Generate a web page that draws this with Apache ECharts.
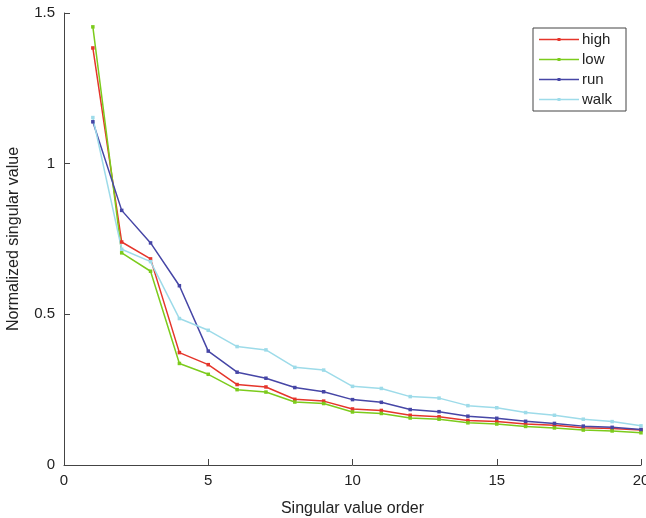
<!DOCTYPE html>
<html>
<head>
<meta charset="utf-8">
<script src="https://cdn.jsdelivr.net/npm/echarts@6/dist/echarts.min.js"></script>
<style>html,body{margin:0;padding:0;background:#fff}#c{width:646px;height:518px}</style>
</head>
<body>
<div id="c"></div>
<script>
const order = [1,2,3,4,5,6,7,8,9,10,11,12,13,14,15,16,17,18,19,20];
const high = [1.384,0.740,0.684,0.373,0.333,0.267,0.259,0.218,0.212,0.186,0.181,0.165,0.160,0.148,0.144,0.136,0.132,0.124,0.121,0.116];
const low  = [1.454,0.704,0.643,0.337,0.301,0.250,0.242,0.209,0.204,0.176,0.171,0.156,0.152,0.140,0.136,0.128,0.123,0.116,0.113,0.107];
const run  = [1.139,0.845,0.737,0.595,0.378,0.308,0.288,0.257,0.243,0.217,0.208,0.184,0.177,0.162,0.155,0.145,0.138,0.129,0.125,0.118];
const walk = [1.153,0.716,0.675,0.486,0.447,0.393,0.382,0.324,0.315,0.261,0.254,0.227,0.222,0.197,0.190,0.174,0.165,0.152,0.144,0.130];
const seriesNames = ['high','low','run','walk'];
const seriesData = [high, low, run, walk];
const colors = ['#e5352b','#7ccb1c','#4646a6','#9ddbe9'];

const font = '"Liberation Sans", Arial, Helvetica, sans-serif';
const chart = echarts.init(document.getElementById('c'));
chart.setOption({
  animation: false,
  backgroundColor: '#fff',
  grid: {left: 64, right: 5, top: 13, bottom: 53, containLabel: false, outerBoundsMode: 'none'},
  legend: {
    orient: 'vertical', left: 533, top: 28,
    data: seriesNames,
    icon: 'path://M0,1.25L40,1.25L40,2.75L0,2.75Z M18.5,0.5L21.5,0.5L21.5,3.5L18.5,3.5Z M0,0L0.01,0L0.01,4L0,4Z',
    backgroundColor: '#fff', borderColor: '#444', borderWidth: 1,
    padding: [4, 14, 4, 6],
    itemWidth: 40, itemHeight: 4, itemGap: 5,
    textStyle: {fontFamily: font, fontSize: 15, color: '#222', padding: [0,0,0,-2], lineHeight: 15}
  },
  xAxis: {
    type: 'value', min: 0, max: 20, interval: 5,
    name: 'Singular value order', nameLocation: 'middle', nameGap: 36,
    nameTextStyle: {fontFamily: font, fontSize: 16, color: '#222'},
    axisLine: {lineStyle: {color: '#444', width: 1}},
    axisTick: {inside: true, length: 6, lineStyle: {color: '#444'}},
    axisLabel: {fontFamily: font, fontSize: 15, color: '#222', margin: 8},
    splitLine: {show: false}
  },
  yAxis: {
    type: 'value', min: 0, max: 1.5, interval: 0.5,
    name: 'Normalized singular value', nameLocation: 'middle', nameGap: 42,
    nameTextStyle: {fontFamily: font, fontSize: 16, color: '#222'},
    axisLine: {show: true, lineStyle: {color: '#444', width: 1}},
    axisTick: {show: true, inside: true, length: 6, lineStyle: {color: '#444'}},
    axisLabel: {fontFamily: font, fontSize: 15, color: '#222', margin: 9},
    splitLine: {show: false}
  },
  series: seriesNames.map((n, i) => ({
    name: n, type: 'line',
    data: order.map((x, j) => [x, seriesData[i][j]]),
    color: colors[i],
    lineStyle: {width: 1.5, color: colors[i]},
    symbol: 'rect', symbolSize: 3.5, showSymbol: true,
    itemStyle: {color: colors[i]}
  }))
});
</script>
</body>
</html>
